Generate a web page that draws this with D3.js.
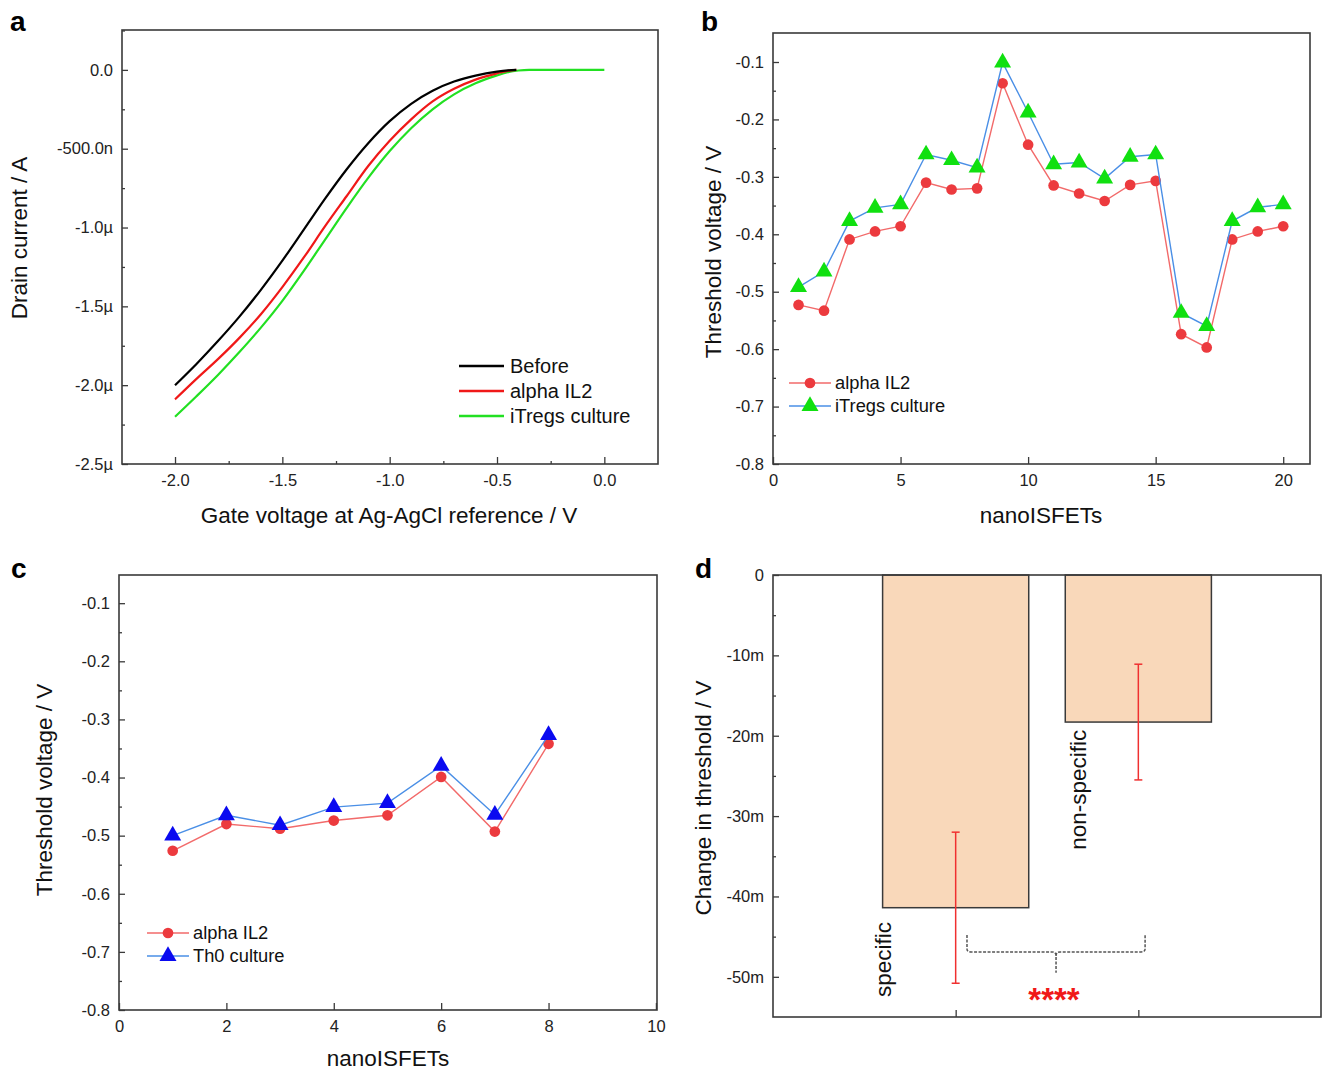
<!DOCTYPE html>
<html>
<head>
<meta charset="utf-8">
<script src="https://cdn.jsdelivr.net/npm/d3@7"></script>
<style>
  body { margin: 0; background: #fff; }
  svg { font-family: "Liberation Sans", Arial, sans-serif; }
</style>
</head>
<body>
<svg id="fig" width="1323" height="1073"></svg>
<script>
// ---- panel a : transfer curves (V, µA) ----
const gateV = [-2.0, -1.9, -1.8, -1.7, -1.6, -1.5, -1.4, -1.3, -1.2, -1.1, -1.0, -0.9, -0.8, -0.7, -0.6, -0.5, -0.45];
const beforeI = [-2.00, -1.865, -1.72, -1.565, -1.395, -1.21, -1.013, -0.815, -0.63, -0.465, -0.325, -0.215, -0.132, -0.074, -0.036, -0.011, -0.003];
const alphaI = [-2.09, -1.96, -1.835, -1.70, -1.55, -1.378, -1.19, -0.99, -0.80, -0.61, -0.45, -0.314, -0.20, -0.12, -0.062, -0.022, -0.006];
const itregI = [-2.20, -2.07, -1.935, -1.79, -1.635, -1.465, -1.275, -1.075, -0.875, -0.685, -0.515, -0.37, -0.25, -0.155, -0.085, -0.035, -0.015];
const beforeEnd = [[-0.41, 0]];
const alphaEnd = [[-0.41, 0]];
const itregEnd = [[-0.4, -0.004], [-0.35, 0], [0.0, 0]];
const aYTicks = [0, -0.5, -1.0, -1.5, -2.0, -2.5];
const aYLabels = ['0.0', '-500.0n', '-1.0µ', '-1.5µ', '-2.0µ', '-2.5µ'];
const aXTicks = [-2.0, -1.5, -1.0, -0.5, 0.0];

// ---- panel b : 20 nanoISFETs ----
const bDevices = d3.range(1, 21);
const bAlpha = [-0.523, -0.533, -0.409, -0.395, -0.386, -0.310, -0.322, -0.320, -0.137, -0.244,
  -0.315, -0.329, -0.342, -0.314, -0.307, -0.574, -0.597, -0.409, -0.395, -0.386];
const bItregs = [-0.492, -0.465, -0.377, -0.354, -0.348, -0.261, -0.271, -0.284, -0.101, -0.188,
  -0.278, -0.275, -0.303, -0.265, -0.261, -0.537, -0.560, -0.377, -0.353, -0.348];

// ---- panel c : 8 nanoISFETs ----
const cDevices = d3.range(1, 9);
const cAlpha = [-0.526, -0.480, -0.488, -0.474, -0.465, -0.399, -0.493, -0.342];
const cTh0 = [-0.500, -0.465, -0.482, -0.451, -0.444, -0.380, -0.464, -0.327];
const vtTicks = [-0.1, -0.2, -0.3, -0.4, -0.5, -0.6, -0.7, -0.8];

// ---- panel d : change in threshold (mV) ----
const dGroups = ['specific', 'non-specific'];
const dMeans = [-41.4, -18.3];
const dErrors = [9.4, 7.2];
const dYTicks = [0, -10, -20, -30, -40, -50];
const dYLabels = ['0', '-10m', '-20m', '-30m', '-40m', '-50m'];
const dSignif = '****';

const svg = d3.select('#fig');
const frameColor = '#3a3a3a';
const tickTextColor = '#222';
const fontFam = '"Liberation Sans", Arial, sans-serif';

function makeFrame(box) {
  const g = svg.append('g');
  const x = d3.scaleLinear().domain(box.xDomain).range([box.left, box.right]);
  const y = d3.scaleLinear().domain(box.yDomain).range([box.bottom, box.top]);
  return { g, x, y };
}

function drawAxes(p, box, opt) {
  // minor ticks first
  if (opt.yMinor) {
    p.g.append('g')
      .attr('transform', `translate(${box.left},0)`)
      .call(d3.axisLeft(p.y).tickValues(opt.yMinor).tickSize(-3).tickFormat(''))
      .call((s) => s.select('.domain').remove())
      .selectAll('line').attr('stroke', frameColor).attr('stroke-width', 1.3);
  }
  if (opt.xMinor) {
    p.g.append('g')
      .attr('transform', `translate(0,${box.bottom})`)
      .call(d3.axisBottom(p.x).tickValues(opt.xMinor).tickSize(-3).tickFormat(''))
      .call((s) => s.select('.domain').remove())
      .selectAll('line').attr('stroke', frameColor).attr('stroke-width', 1.3);
  }
  const ya = p.g.append('g')
    .attr('transform', `translate(${box.left},0)`)
    .call(d3.axisLeft(p.y).tickValues(opt.yTicks).tickSize(-6).tickPadding(9)
      .tickFormat((d, i) => opt.yLabels[i]));
  ya.select('.domain').remove();
  ya.selectAll('line').attr('stroke', frameColor).attr('stroke-width', 1.3);
  ya.selectAll('text').attr('font-size', 16.5).attr('fill', tickTextColor)
    .attr('font-family', fontFam);

  if (opt.xTicks) {
    const xa = p.g.append('g')
      .attr('transform', `translate(0,${box.bottom})`)
      .call(d3.axisBottom(p.x).tickValues(opt.xTicks).tickSize(-7).tickPadding(10)
        .tickFormat((d, i) => (opt.xLabels ? opt.xLabels[i] : d)));
    xa.select('.domain').remove();
    xa.selectAll('line').attr('stroke', frameColor).attr('stroke-width', 1.3);
    xa.selectAll('text').attr('font-size', 16.5).attr('fill', tickTextColor)
      .attr('font-family', fontFam);
  }

  p.g.append('rect')
    .attr('x', box.left).attr('y', box.top)
    .attr('width', box.right - box.left).attr('height', box.bottom - box.top)
    .attr('fill', 'none').attr('stroke', frameColor).attr('stroke-width', 1.6);

  if (opt.xTitle) {
    p.g.append('text').attr('x', opt.xTitle[1]).attr('y', opt.xTitle[2])
      .attr('text-anchor', 'middle').attr('font-size', 22.5).attr('fill', '#111')
      .text(opt.xTitle[0]);
  }
  p.g.append('text')
    .attr('transform', `translate(${opt.yTitle[1]},${opt.yTitle[2]}) rotate(-90)`)
    .attr('text-anchor', 'middle').attr('font-size', 22.5).attr('fill', '#111')
    .text(opt.yTitle[0]);
  svg.append('text').attr('x', opt.letter[1]).attr('y', opt.letter[2])
    .attr('font-size', 28).attr('font-weight', 'bold').attr('fill', '#000')
    .attr('font-family', fontFam)
    .text(opt.letter[0]);
}

/* Panel a */
const boxA = { left: 122, right: 658, top: 30, bottom: 464, xDomain: [-2.247, 0.25], yDomain: [-2.5, 0.253] };
const pa = makeFrame(boxA);
drawAxes(pa, boxA, {
  yTicks: aYTicks, yLabels: aYLabels,
  yMinor: [0.25, -0.25, -0.75, -1.25, -1.75, -2.25],
  xTicks: aXTicks, xLabels: aXTicks.map((d) => d.toFixed(1)),
  xMinor: [-1.75, -1.25, -0.75, -0.25],
  xTitle: ['Gate voltage at Ag-AgCl reference / V', 389, 523],
  yTitle: ['Drain current / A', 27, 238],
  letter: ['a', 10, 31]
});
const lineA = d3.line().x((d) => pa.x(d[0])).y((d) => pa.y(d[1])).curve(d3.curveMonotoneX);
const seriesA = [
  { pts: gateV.map((v, i) => [v, itregI[i]]).concat(itregEnd), color: '#22e022' },
  { pts: gateV.map((v, i) => [v, alphaI[i]]).concat(alphaEnd), color: '#f01818' },
  { pts: gateV.map((v, i) => [v, beforeI[i]]).concat(beforeEnd), color: '#000' }
];
pa.g.selectAll('path.curve').data(seriesA).join('path')
  .attr('class', 'curve')
  .attr('d', (d) => lineA(d.pts))
  .attr('fill', 'none').attr('stroke', (d) => d.color).attr('stroke-width', 2.2);
const legA = [['Before', '#000'], ['alpha IL2', '#f01818'], ['iTregs culture', '#22e022']];
legA.forEach((l, i) => {
  const yy = 366 + i * 25;
  pa.g.append('line').attr('x1', 459).attr('x2', 504).attr('y1', yy).attr('y2', yy)
    .attr('stroke', l[1]).attr('stroke-width', 2.4);
  pa.g.append('text').attr('x', 510).attr('y', yy + 7).attr('font-size', 20).attr('fill', '#111').text(l[0]);
});

// marker helpers
const circleSym = d3.symbol().type(d3.symbolCircle).size(90);
const triSym = d3.symbol().type(d3.symbolTriangle).size(125);

function drawSeries(p, xs, ys, lineColor, markColor, sym) {
  const ln = d3.line().x((d, i) => p.x(xs[i])).y((d) => p.y(d));
  p.g.append('path').attr('d', ln(ys)).attr('fill', 'none')
    .attr('stroke', lineColor).attr('stroke-width', 1.4);
  p.g.selectAll(null).data(ys).join('path')
    .attr('transform', (d, i) => `translate(${p.x(xs[i])},${p.y(d)})`)
    .attr('d', sym).attr('fill', markColor);
}

function drawLegend(p, x0, y0, items) {
  items.forEach((it, i) => {
    const yy = y0 + i * 23;
    p.g.append('line').attr('x1', x0).attr('x2', x0 + 42).attr('y1', yy).attr('y2', yy)
      .attr('stroke', it[1]).attr('stroke-width', 1.4);
    p.g.append('path').attr('transform', `translate(${x0 + 21},${yy})`).attr('d', it[3]).attr('fill', it[2]);
    p.g.append('text').attr('x', x0 + 46).attr('y', yy + 6).attr('font-size', 18.3).attr('fill', '#111').text(it[0]);
  });
}

/* Panel b */
const boxB = { left: 773, right: 1310, top: 33, bottom: 464, xDomain: [0, 21.05], yDomain: [-0.8, -0.0495] };
const pb = makeFrame(boxB);
drawAxes(pb, boxB, {
  yTicks: vtTicks, yLabels: vtTicks.map((d) => d.toFixed(1)),
  yMinor: [-0.15, -0.25, -0.35, -0.45, -0.55, -0.65, -0.75],
  xTicks: [0, 5, 10, 15, 20], xLabels: ['0', '5', '10', '15', '20'],
  xTitle: ['nanoISFETs', 1041, 523],
  yTitle: ['Threshold voltage / V', 721, 252],
  letter: ['b', 701, 31]
});
drawSeries(pb, bDevices, bAlpha, '#f26a6a', '#ec3a3e', circleSym);
drawSeries(pb, bDevices, bItregs, '#4a8fe6', '#10e010', triSym);
drawLegend(pb, 789, 383, [['alpha IL2', '#f26a6a', '#ec3a3e', circleSym], ['iTregs culture', '#4a8fe6', '#10e010', triSym]]);

/* Panel c */
const boxC = { left: 119, right: 657, top: 575, bottom: 1010, xDomain: [0, 10.02], yDomain: [-0.8, -0.0515] };
const pc = makeFrame(boxC);
drawAxes(pc, boxC, {
  yTicks: vtTicks, yLabels: vtTicks.map((d) => d.toFixed(1)),
  yMinor: [-0.15, -0.25, -0.35, -0.45, -0.55, -0.65, -0.75],
  xTicks: [0, 2, 4, 6, 8, 10], xLabels: ['0', '2', '4', '6', '8', '10'],
  xTitle: ['nanoISFETs', 388, 1066],
  yTitle: ['Threshold voltage / V', 52, 790],
  letter: ['c', 11, 578]
});
drawSeries(pc, cDevices, cAlpha, '#f26a6a', '#ec3a3e', circleSym);
drawSeries(pc, cDevices, cTh0, '#4a8fe6', '#0a0af0', triSym);
drawLegend(pc, 147, 933, [['alpha IL2', '#f26a6a', '#ec3a3e', circleSym], ['Th0 culture', '#4a8fe6', '#0a0af0', triSym]]);

/* Panel d */
const boxD = { left: 773, right: 1321, top: 575, bottom: 1017, xDomain: [0, 3], yDomain: [-55, 0] };
const pd = makeFrame(boxD);
const dPos = [1, 2];
const barW = 0.8;
pd.g.selectAll('rect.bar').data(dMeans).join('rect')
  .attr('class', 'bar')
  .attr('x', (d, i) => pd.x(dPos[i] - barW / 2))
  .attr('y', pd.y(0))
  .attr('width', pd.x(barW) - pd.x(0))
  .attr('height', (d) => pd.y(d) - pd.y(0))
  .attr('fill', '#f9d8ba').attr('stroke', '#3a3a3a').attr('stroke-width', 1.5);
pd.g.selectAll('g.err').data(dMeans).join('g').attr('class', 'err')
  .each(function (d, i) {
    const g = d3.select(this);
    const cx = pd.x(dPos[i]);
    const lo = pd.y(d - dErrors[i]);
    const hi = pd.y(d + dErrors[i]);
    g.append('line').attr('x1', cx).attr('x2', cx).attr('y1', hi).attr('y2', lo);
    g.append('line').attr('x1', cx - 4).attr('x2', cx + 4).attr('y1', hi).attr('y2', hi);
    g.append('line').attr('x1', cx - 4).attr('x2', cx + 4).attr('y1', lo).attr('y2', lo);
    g.selectAll('line').attr('stroke', '#f03030').attr('stroke-width', 1.5);
  });
drawAxes(pd, boxD, {
  yTicks: dYTicks, yLabels: dYLabels,
  yMinor: [-5, -15, -25, -35, -45],
  xTicks: dPos, xLabels: ['', ''],
  yTitle: ['Change in threshold / V', 711, 798],
  letter: ['d', 695, 578]
});
// rotated group labels (baseline position in data units)
const grpX = [0.646, 1.713];
const grpY = [-52.5, -34.2];
pd.g.selectAll('text.grp').data(dGroups).join('text')
  .attr('class', 'grp')
  .attr('transform', (d, i) => `translate(${pd.x(grpX[i])},${pd.y(grpY[i])}) rotate(-90)`)
  .attr('font-size', 22.5).attr('fill', '#111')
  .text((d) => d);
// significance brace
const bx0 = pd.x(1.062);
const bx1 = pd.x(2.037);
const bxm = (bx0 + bx1) / 2;
const by0 = pd.y(-44.8);
const by1 = pd.y(-46.9);
const byTip = pd.y(-49.5);
const brace = `M${bx0},${by0} L${bx0},${by1 - 3} Q${bx0},${by1} ${bx0 + 4},${by1}`
  + ` L${bxm - 4},${by1} Q${bxm},${by1} ${bxm},${by1 + 4} L${bxm},${byTip}`
  + ` M${bxm},${by1 + 4} Q${bxm},${by1} ${bxm + 4},${by1} L${bx1 - 4},${by1}`
  + ` Q${bx1},${by1} ${bx1},${by1 - 3} L${bx1},${by0}`;
pd.g.append('path').attr('d', brace).attr('fill', 'none')
  .attr('stroke', '#555').attr('stroke-width', 1.5).attr('stroke-dasharray', '3,1.5');
pd.g.append('text').attr('x', bxm - 2).attr('y', pd.y(-54.3))
  .attr('text-anchor', 'middle').attr('font-size', 33).attr('font-weight', 'bold')
  .attr('fill', '#f01818').text(dSignif);
</script>
</body>
</html>
